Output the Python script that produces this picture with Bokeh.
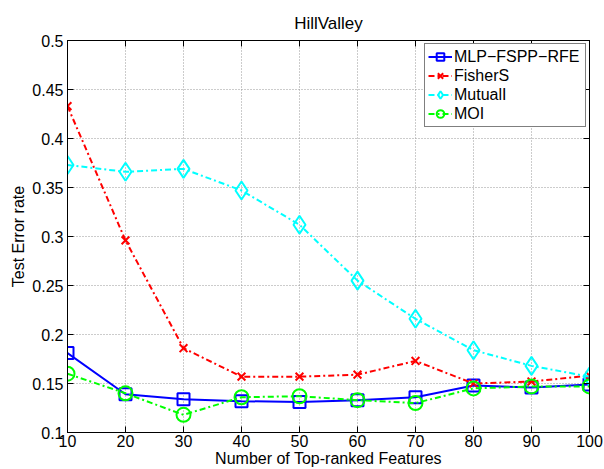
from bokeh.plotting import figure
from bokeh.models import LinearAxis, FixedTicker, CustomJSTickFormatter, Range1d
from bokeh.embed import file_html
from bokeh.resources import INLINE

features = [10, 20, 30, 40, 50, 60, 70, 80, 90, 100]
mlp_fspp_rfe = [0.181, 0.139, 0.134, 0.132, 0.131, 0.133, 0.136, 0.148, 0.146, 0.149]
fisher_s = [0.433, 0.296, 0.186, 0.157, 0.157, 0.159, 0.173, 0.150, 0.152, 0.158]
mutual_i = [0.373, 0.366, 0.369, 0.347, 0.312, 0.255, 0.216, 0.184, 0.168, 0.157]
moi = [0.160, 0.140, 0.118, 0.136, 0.137, 0.133, 0.130, 0.145, 0.147, 0.147]

x_ticks = [10, 20, 30, 40, 50, 60, 70, 80, 90, 100]
y_ticks = [0.1, 0.15, 0.2, 0.25, 0.3, 0.35, 0.4, 0.45, 0.5]

FONT = "Liberation Sans"

p = figure(width=604, height=469, output_backend="svg", toolbar_location=None,
           x_range=Range1d(10, 100), y_range=Range1d(0.1, 0.5),
           title="HillValley")
p.min_border_left = 67
p.min_border_right = 15
p.min_border_top = 40
p.min_border_bottom = 37
p.background_fill_color = "white"
p.border_fill_color = "white"
p.outline_line_color = "black"
p.outline_line_width = 1

p.title.align = "center"
p.title.text_font = FONT
p.title.text_font_size = "17px"
p.title.text_font_style = "normal"
p.title.text_color = "black"
p.title.standoff = 16

fmt = CustomJSTickFormatter(code="return String(Math.round(tick*100)/100);")

for ax in [p.xaxis[0], p.yaxis[0]]:
    ax.major_tick_in = 6
    ax.major_tick_out = 0
    ax.minor_tick_line_color = None
    ax.axis_line_color = "black"
    ax.major_tick_line_color = "black"
    ax.major_label_text_font = FONT
    ax.major_label_text_font_size = "16px"
    ax.major_label_text_color = "black"
    ax.axis_label_text_font = FONT
    ax.axis_label_text_font_size = "16px"
    ax.axis_label_text_font_style = "normal"
    ax.axis_label_text_color = "black"

p.xaxis[0].ticker = FixedTicker(ticks=x_ticks)
p.yaxis[0].ticker = FixedTicker(ticks=y_ticks)
p.yaxis[0].formatter = fmt
p.xaxis[0].axis_label = "Number of Top-ranked Features"
p.yaxis[0].axis_label = "Test Error rate"
p.xaxis[0].major_label_standoff = 2
p.xaxis[0].axis_label_standoff = 0
p.yaxis[0].major_label_standoff = 4
p.yaxis[0].axis_label_standoff = 2

blank = CustomJSTickFormatter(code="return '';")
right = LinearAxis(ticker=FixedTicker(ticks=y_ticks), formatter=blank,
                   major_tick_in=6, major_tick_out=0, minor_tick_line_color=None,
                   major_label_text_font_size="1px", major_label_standoff=0)
top = LinearAxis(ticker=FixedTicker(ticks=x_ticks), formatter=blank,
                 major_tick_in=6, major_tick_out=0, minor_tick_line_color=None,
                 major_label_text_font_size="1px", major_label_standoff=0)
p.add_layout(right, "right")
p.add_layout(top, "above")

p.xgrid.ticker = FixedTicker(ticks=x_ticks)
p.ygrid.ticker = FixedTicker(ticks=y_ticks)
for g in [p.xgrid[0], p.ygrid[0]]:
    g.grid_line_color = "#999999"
    g.grid_line_dash = "1 2"
    g.grid_line_width = 1

series = [
    ("MLP\u2212FSPP\u2212RFE", mlp_fspp_rfe, "#0000ff", "solid", "square", 12),
    ("FisherS", fisher_s, "#ff0000", "6 3 2 3", "x", 11),
    ("MutualI", mutual_i, "#00ffff", "6 3 2 3", "diamond", 18),
    ("MOI", moi, "#00ff00", "6 3 2 3", "circle", 14),
]
for name, ys, col, dash, marker, size in series:
    p.line(features, ys, line_color=col, line_width=2, line_dash=dash, legend_label=name)
    p.scatter(features, ys, marker=marker, size=size, line_color=col, line_width=2,
              fill_color=None, legend_label=name)

lg = p.legend[0]
lg.location = "top_right"
lg.border_line_color = "black"
lg.border_line_width = 1
lg.background_fill_color = "white"
lg.background_fill_alpha = 1
lg.label_text_font = FONT
lg.label_text_font_size = "16px"
lg.label_text_color = "black"
lg.glyph_width = 24
lg.glyph_height = 19
lg.label_height = 19
lg.label_width = 128
lg.spacing = 0
lg.padding = 3
lg.margin = 3
lg.label_standoff = 2

open("out.html", "w").write(file_html(p, INLINE))
